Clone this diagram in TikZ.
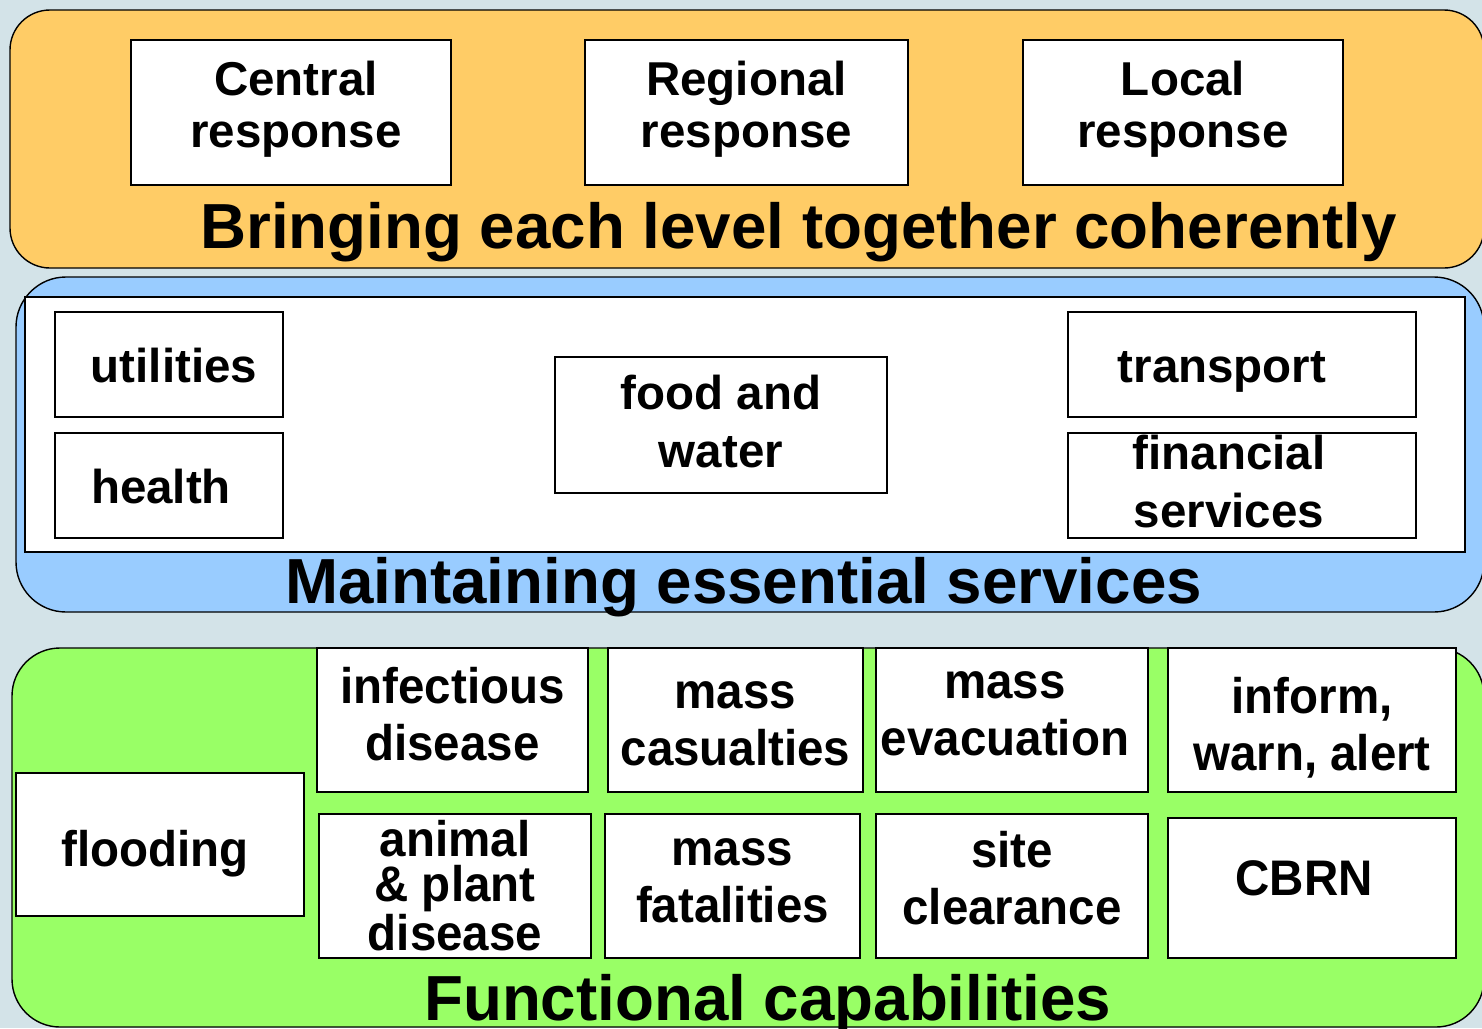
\documentclass[tikz,border=0pt]{standalone}
\usepackage{fontspec}
\setmainfont{Liberation Sans}
\newfontfamily\narrowsans[FakeStretch=0.95]{Liberation Sans}
\usepackage{tikz}
\usetikzlibrary{calc}
\definecolor{backdrop}{RGB}{211,227,232}
\definecolor{levelorange}{RGB}{255,204,102}
\definecolor{serviceblue}{RGB}{153,204,255}
\definecolor{capgreen}{RGB}{153,255,102}
\tikzstyle{panel}=[draw=black, line width=.7pt]
\tikzstyle{boxline}=[draw=black, fill=white, line width=.7pt]
\tikzstyle{toptext}=[align=center, inner sep=0pt, font=\bfseries\fontsize{23.75}{26}\selectfont,
 execute at begin node=\strut, execute at end node=\strut]
\tikzstyle{midtext}=[toptext, font=\bfseries\fontsize{23.75}{29}\selectfont]
\tikzstyle{captext}=[toptext, font=\narrowsans\bfseries\fontsize{25}{28.5}\selectfont]
\tikzstyle{heading}=[anchor=base, inner sep=0pt, font=\bfseries\fontsize{31.85}{36}\selectfont]
\newcommand{\rbox}[7]{
 \draw[boxline] (#2,#3) rectangle (#4,#5);
 \node[#6] (#1) at ($(#2,#3)!.5!(#4,#5)$) {#7};
}

\begin{document}
\begin{tikzpicture}[x=.5pt, y=-.5pt]
 \useasboundingbox (0,0) rectangle (1482,1028);
 \fill[backdrop] (0,0) rectangle (1482,1028);
%
 \draw[panel, fill=levelorange, rounded corners=20pt] (10,10) rectangle (1484,268);
 \rbox{central}{131}{40}{451}{185}{toptext, xshift=2.5pt}{Central\\response}
 \rbox{regional}{585}{40}{908}{185}{toptext}{Regional\\response}
 \rbox{local}{1023}{40}{1343}{185}{toptext}{Local\\response}
 \node[heading] (levelhead) at (798.5,248) {Bringing each level together coherently};
%
 \draw[panel, fill=serviceblue, rounded corners=25pt] (16,277) rectangle (1484,612);
 \draw[boxline] (25,297) rectangle (1465,552);
 \rbox{utilities}{55}{312}{283}{417}{midtext, xshift=2.5pt, yshift=-3pt}{utilities}
 \rbox{health}{55}{433}{283}{538}{midtext, xshift=-4pt, yshift=-3pt}{health}
 \rbox{food}{555}{357}{887}{493}{midtext, yshift=-2.5pt}{food and\\water}
 \rbox{transport}{1068}{312}{1416}{417}{midtext, xshift=-10pt, yshift=-3pt}{transport}
 \rbox{financial}{1068}{433}{1416}{538}{midtext, xshift=-6.5pt, yshift=-2pt}{financial\\services}
 \node[heading] (servicehead) at (743.5,603) {Maintaining essential services};
%
 \draw[panel, fill=capgreen, rounded corners=24pt] (12,648) rectangle (1484,1027);
 \rbox{flooding}{16}{773}{304}{916}{captext, xshift=-2.5pt, yshift=-5.5pt}{flooding}
 \rbox{infectious}{317}{648}{588}{792}{captext, yshift=-1pt}{infectious\\disease}
 \rbox{casualties}{608}{648}{863}{792}{captext, yshift=-6pt}{mass\\casualties}
 \rbox{evacuation}{876}{648}{1148}{792}{captext, xshift=-3.5pt, yshift=-1pt}{mass\\evacuation}
 \rbox{inform}{1168}{648}{1456}{792}{captext, yshift=-6pt}{inform,\\warn, alert}
 \rbox{animal}{319}{814}{591}{958}{captext, font=\narrowsans\bfseries\fontsize{25}{22.5}\selectfont, yshift=-3pt}{animal\\\& plant\\disease}
 \rbox{fatalities}{605}{814}{860}{958}{captext, yshift=-1.5pt}{mass\\fatalities}
 \rbox{clearance}{876}{814}{1148}{958}{captext}{site\\clearance}
 \rbox{cbrn}{1168}{818}{1456}{958}{captext, xshift=-4pt, yshift=2pt}{CBRN}
 \node[heading] (capshead) at (767.5,1020) {Functional capabilities};
\end{tikzpicture}
\end{document}
